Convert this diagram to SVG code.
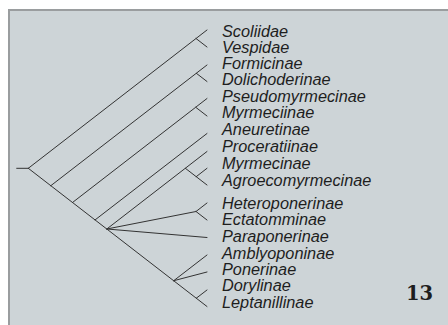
<svg xmlns="http://www.w3.org/2000/svg" width="448" height="325" viewBox="0 0 448 325">
<style>
.bg{fill:#cdd4d7}
.frame{stroke:#9a9d9f;stroke-width:2;fill:none}
.br{stroke:#333;stroke-width:1;fill:none;stroke-linecap:round}
.lbl{font-family:"Liberation Sans",Arial,sans-serif;font-style:italic;font-size:16.3px;fill:#1e1e1e}
.num{font-family:"DejaVu Serif",serif;font-weight:bold;font-size:19.5px;fill:#1e1e1e}
</style>
<rect x="0" y="0" width="448" height="325" fill="#ffffff"/>
<rect class="bg" x="8" y="9" width="440" height="316"/>
<path class="frame" d="M9 325 V10 H448"/>
<g id="connectors" class="br">
  <path d="M16.7 168.3 H28.3"/>
  <path d="M28.3 168.3 L207 306.5"/>
  <path d="M28.3 168.3 L196 38.5 L207 30 M196 38.5 L207 47"/>
  <path d="M50.8 185.7 L196.3 73.25 L207 65 M196.3 73.25 L207 81.5"/>
  <path d="M72.5 202.5 L195.7 107.25 L207 98.5 M195.7 107.25 L207 116"/>
  <path d="M95.1 219.9 L207 133.5"/>
  <path d="M106.8 229 L207 151.5 M185.3 168.25 L207 185 M196.2 176.7 L207 168.3"/>
  <path d="M106.8 229 L196 211.5 L207 203 M196 211.5 L207 220"/>
  <path d="M106.8 229 L207 237.5"/>
  <path d="M173.7 280.7 L207 255 M173.7 280.7 L207 272"/>
  <path d="M196.3 298.2 L207 290"/>
</g>
<g id="n-scoliidae"><text class="lbl" x="222" y="36.7">Scoliidae</text></g>
<g id="n-vespidae"><text class="lbl" x="222" y="52.7">Vespidae</text></g>
<g id="n-formicinae"><text class="lbl" x="222" y="69.3">Formicinae</text></g>
<g id="n-dolichoderinae"><text class="lbl" x="222" y="85">Dolichoderinae</text></g>
<g id="n-pseudomyrmecinae"><text class="lbl" x="222" y="101.7">Pseudomyrmecinae</text></g>
<g id="n-myrmeciinae"><text class="lbl" x="222" y="118.3">Myrmeciinae</text></g>
<g id="n-aneuretinae"><text class="lbl" x="222" y="135">Aneuretinae</text></g>
<g id="n-proceratiinae"><text class="lbl" x="222" y="151.7">Proceratiinae</text></g>
<g id="n-myrmecinae"><text class="lbl" x="222" y="168.5">Myrmecinae</text></g>
<g id="n-agroecomyrmecinae"><text class="lbl" x="222" y="186">Agroecomyrmecinae</text></g>
<g id="n-heteroponerinae"><text class="lbl" x="222" y="208.5">Heteroponerinae</text></g>
<g id="n-ectatomminae"><text class="lbl" x="222" y="225">Ectatomminae</text></g>
<g id="n-paraponerinae"><text class="lbl" x="222" y="241.8">Paraponerinae</text></g>
<g id="n-amblyoponinae"><text class="lbl" x="222" y="258.5">Amblyoponinae</text></g>
<g id="n-ponerinae"><text class="lbl" x="222" y="275">Ponerinae</text></g>
<g id="n-dorylinae"><text class="lbl" x="222" y="291">Dorylinae</text></g>
<g id="n-leptanillinae"><text class="lbl" x="222" y="308">Leptanillinae</text></g>
<g id="figure-number"><text class="num" x="406" y="300">13</text></g>
</svg>
